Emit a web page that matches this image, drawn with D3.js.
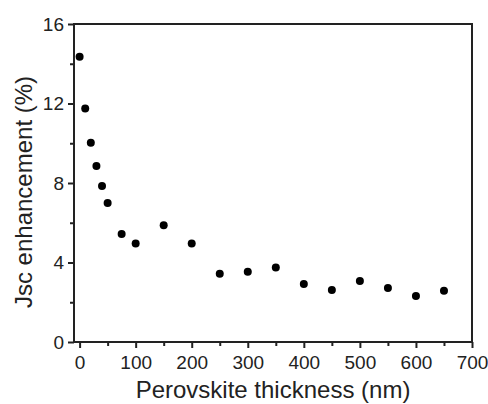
<html>
<head>
<meta charset="utf-8">
<style>
  body { margin: 0; background: white; font-family: "Liberation Sans", Arial, Helvetica, sans-serif; }
  svg { display: block; }
  .axis path { display: none; }
  .axis line { stroke: #222; stroke-width: 2; }
  .axis text { font-family: "Liberation Sans", Arial, sans-serif; font-size: 19px; fill: #222; }
</style>
<script src="https://cdn.jsdelivr.net/npm/d3@7"></script>
</head>
<body>
<svg id="chart"></svg>
<script>
  // data
  let thickness = [0, 10, 20, 30, 40, 50, 75, 100, 150, 200, 250, 300, 350, 400, 450, 500, 550, 600, 650]
  let enhancement = [14.35, 11.75, 10.03, 8.85, 7.85, 7.0, 5.43, 4.95, 5.87, 4.95, 3.44, 3.54, 3.75, 2.92, 2.62, 3.07, 2.72, 2.31, 2.58]

  let xMajor = [0, 100, 200, 300, 400, 500, 600, 700]
  let xMinor = [50, 150, 250, 350, 450, 550, 650]
  let yMajor = [0, 4, 8, 12, 16]
  let yMinor = [2, 6, 10, 14]

  let width = 488, height = 404
  let margin = { top: 24, right: 16, bottom: 62, left: 74 }

  let svg = d3.select("#chart").attr("width", width).attr("height", height)

  let xScale = d3.scaleLinear().domain([-10, 700]).range([margin.left, width - margin.right])
  let yScale = d3.scaleLinear().domain([0, 16]).range([height - margin.bottom, margin.top])

  let x0 = xScale.range()[0], x1 = xScale.range()[1]
  let y0 = yScale.range()[0], y1 = yScale.range()[1]

  // minor ticks first, then major ones with labels
  svg.append("g").attr("class", "axis")
    .attr("transform", `translate(0,${y0})`)
    .call(d3.axisBottom(xScale).tickValues(xMinor).tickSize(4).tickFormat(""))
  svg.append("g").attr("class", "axis")
    .attr("transform", `translate(0,${y0})`)
    .call(d3.axisBottom(xScale).tickValues(xMajor).tickSize(6).tickPadding(8).tickFormat(d3.format("d")))

  svg.append("g").attr("class", "axis")
    .attr("transform", `translate(${x0},0)`)
    .call(d3.axisLeft(yScale).tickValues(yMinor).tickSize(4).tickFormat(""))
  svg.append("g").attr("class", "axis")
    .attr("transform", `translate(${x0},0)`)
    .call(d3.axisLeft(yScale).tickValues(yMajor).tickSize(6).tickPadding(4).tickFormat(d3.format("d")))

  // frame
  svg.append("rect")
    .attr("x", x0).attr("y", y1)
    .attr("width", x1 - x0).attr("height", y0 - y1)
    .attr("fill", "none").attr("stroke", "#222").attr("stroke-width", 2)

  // points
  svg.append("g").selectAll("circle")
    .data(thickness)
    .enter().append("circle")
    .attr("cx", d => xScale(d))
    .attr("cy", (d, i) => yScale(enhancement[i]))
    .attr("r", 4)
    .attr("fill", "#000")

  // axis titles
  svg.append("text")
    .attr("x", 273).attr("y", 398)
    .attr("text-anchor", "middle")
    .style("font-size", "24px").style("fill", "#222")
    .text("Perovskite thickness (nm)")

  svg.append("text")
    .attr("transform", "translate(32,192) rotate(-90)")
    .attr("text-anchor", "middle")
    .style("font-size", "24px").style("fill", "#222")
    .text("Jsc enhancement (%)")
</script>
</body>
</html>
